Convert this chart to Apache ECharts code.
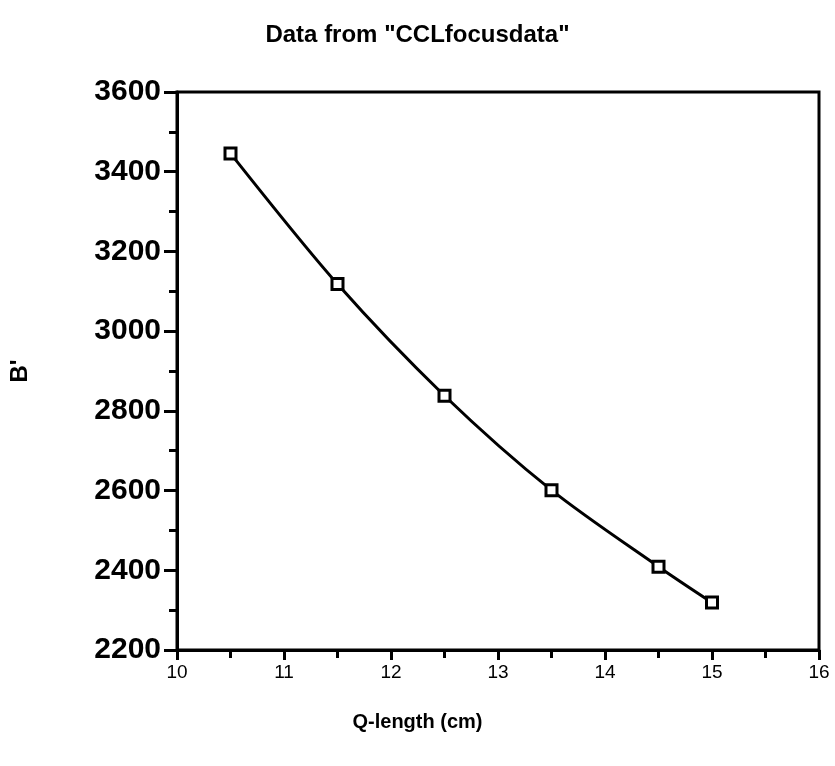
<!DOCTYPE html>
<html><head><meta charset="utf-8">
<script src="https://cdn.jsdelivr.net/npm/echarts@6/dist/echarts.min.js"></script>
<style>html,body{margin:0;padding:0;background:#fff}#c{width:835px;height:766px}</style>
</head><body><div id="c"></div>
<script>
var titleText = 'Data from "CCLfocusdata"';
var xName = 'Q-length (cm)';
var yName = "B'";
var qLength = [10.5, 11.5, 12.5, 13.5, 14.5, 15];
var bPrime = [3446, 3118, 2838, 2601, 2409, 2319];

var data = qLength.map(function(x, i){ return [x, bPrime[i]]; });
var chart = echarts.init(document.getElementById('c'));
var font = 'Liberation Sans, Arial, Helvetica, sans-serif';
chart.setOption({
  animation: false,
  title: [
    { text: titleText, left: 'center', top: 18,
      textStyle: { fontFamily: font, fontWeight: 'bold', fontSize: 24, color: '#000' } },
    { text: xName, left: 'center', top: 707,
      textStyle: { fontFamily: font, fontWeight: 'bold', fontSize: 20, color: '#000' } }
  ],
  grid: { left: 176, right: 16, top: 92, bottom: 116, show: true, borderColor: '#000', borderWidth: 3 },
  xAxis: {
    type: 'value', min: 10, max: 16, interval: 1,
    axisLine: { lineStyle: { color: '#000', width: 3 } },
    axisTick: { show: true, length: 10, lineStyle: { color: '#000', width: 3 } },
    minorTick: { show: true, splitNumber: 2, length: 8, lineStyle: { color: '#000', width: 3 } },
    splitLine: { show: false },
    axisLabel: { fontFamily: font, fontSize: 19, color: '#000', margin: 13 }
  },
  yAxis: {
    type: 'value', min: 2200, max: 3600, interval: 200,
    name: yName, nameLocation: 'middle', nameGap: 145, nameRotate: 90,
    nameTextStyle: { fontFamily: font, fontWeight: 'bold', fontSize: 24, color: '#000' },
    axisLine: { lineStyle: { color: '#000', width: 3 } },
    axisTick: { show: true, length: 13, lineStyle: { color: '#000', width: 3 } },
    minorTick: { show: true, splitNumber: 2, length: 8, lineStyle: { color: '#000', width: 3 } },
    splitLine: { show: false },
    axisLabel: { fontFamily: font, fontWeight: 'bold', fontSize: 30, color: '#000', margin: 16,
      formatter: function(v){ return String(v); } }
  },
  series: [{
    type: 'line', data: data, smooth: 0.3,
    lineStyle: { color: '#000', width: 3 },
    symbol: 'rect', symbolSize: 11, showAllSymbol: true,
    itemStyle: { color: '#fff', borderColor: '#000', borderWidth: 3 }
  }]
});
</script></body></html>
